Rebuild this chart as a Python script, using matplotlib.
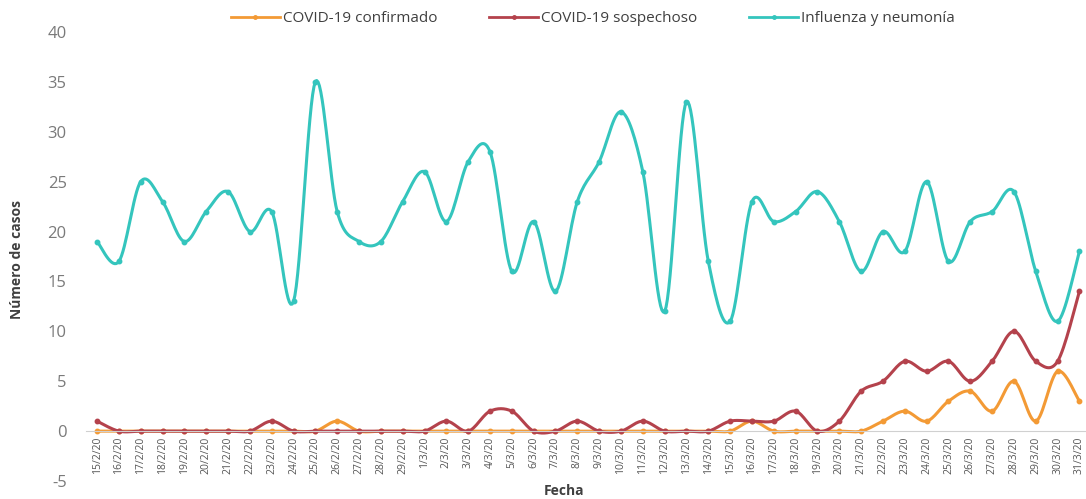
import numpy as np
import matplotlib
matplotlib.use("Agg")
import matplotlib.pyplot as plt

# dates 15/2/20 .. 31/3/20
fechas = [f"{d}/2/20" for d in range(15, 30)] + [f"{d}/3/20" for d in range(1, 32)]

confirmado = [0, 0, 0, 0, 0, 0, 0, 0, 0, 0, 0, 1, 0, 0, 0,
              0, 0, 0, 0, 0, 0, 0, 0, 0, 0, 0, 0, 0, 0, 0, 1,
              0, 0, 0, 0, 0, 1, 2, 1, 3, 4, 2, 5, 1, 6, 3]
sospechoso = [1, 0, 0, 0, 0, 0, 0, 0, 1, 0, 0, 0, 0, 0, 0,
              0, 1, 0, 2, 2, 0, 0, 1, 0, 0, 1, 0, 0, 0, 1, 1,
              1, 2, 0, 1, 4, 5, 7, 6, 7, 5, 7, 10, 7, 7, 14]
influenza = [19, 17, 25, 23, 19, 22, 24, 20, 22, 13, 35, 22, 19, 19, 23,
             26, 21, 27, 28, 16, 21, 14, 23, 27, 32, 26, 12, 33, 17, 11, 23,
             21, 22, 24, 21, 16, 20, 18, 25, 17, 21, 22, 24, 16, 11, 18]

series = [
    ("COVID-19 confirmado", confirmado, "#F39A35"),
    ("COVID-19 sospechoso", sospechoso, "#B4424C"),
    ("Influenza y neumonía", influenza, "#34C5BD"),
]


def smooth(y, steps=16):
    # catmull-rom curve through the points, like excel's smoothed line
    y = np.asarray(y, dtype=float)
    x = np.arange(len(y), dtype=float)
    px = np.concatenate([[x[0]], x, [x[-1]]])
    py = np.concatenate([[y[0]], y, [y[-1]]])
    xs, ys = [], []
    t = np.linspace(0, 1, steps, endpoint=False)
    for i in range(1, len(px) - 2):
        for p, out in ((px, xs), (py, ys)):
            p0, p1, p2, p3 = p[i - 1], p[i], p[i + 1], p[i + 2]
            out.extend(0.5 * ((2 * p1) + (-p0 + p2) * t
                              + (2 * p0 - 5 * p1 + 4 * p2 - p3) * t ** 2
                              + (-p0 + 3 * p1 - 3 * p2 + p3) * t ** 3))
    xs.append(x[-1])
    ys.append(y[-1])
    return np.array(xs), np.array(ys)


plt.rcParams['font.family'] = ['Open Sans', 'DejaVu Sans']
plt.rcParams['axes.unicode_minus'] = False

fig = plt.figure(figsize=(10.86, 4.99), dpi=100)
ax = fig.add_axes([0.0793, 0.036, 0.9207, 0.900])

# spine position first, it resets the tick styling
for s in ('top', 'right', 'left'):
    ax.spines[s].set_visible(False)
ax.spines['bottom'].set_position(('data', 0))
ax.spines['bottom'].set_color('#D0D0D0')
ax.spines['bottom'].set_linewidth(0.8)

idx = np.arange(len(fechas))
for name, vals, col in series:
    sx, sy = smooth(vals)
    ax.plot(sx, sy, color=col, lw=2.2, solid_capstyle='round')
    ax.plot(idx, vals, 'o', color=col, ms=3.2, mec=col)
    # legend proxy
    ax.plot([], [], color=col, lw=2, marker='o', ms=2.5, label=name)

ax.set_xlim(-0.5, 45.3)
ax.set_ylim(-5, 40)
ax.set_yticks(range(-5, 41, 5))
ax.tick_params(axis='y', length=0, labelsize=12, labelcolor='#7a7a7a', pad=14)

ax.set_xticks(idx)
ax.set_xticklabels(fechas, rotation=90, fontsize=7.5, color='#555555', va='top', ha='center')
ax.tick_params(axis='x', length=0, pad=4)

fig.text(0.016, 0.48, "Número de casos", rotation=90, ha='center', va='center',
         fontsize=10, fontweight='bold', color='#404040')
fig.text(0.519, 0.016, "Fecha", ha='center', va='center',
         fontsize=10, fontweight='bold', color='#404040')

handles, labels = ax.get_legend_handles_labels()
fig.legend(handles, labels, loc='center', bbox_to_anchor=(0.546, 0.962), ncol=3,
           frameon=False, fontsize=11, handlelength=3.2, handletextpad=0.2,
           columnspacing=3.4, labelcolor='#404040')

fig.savefig("out.png", dpi=100)
